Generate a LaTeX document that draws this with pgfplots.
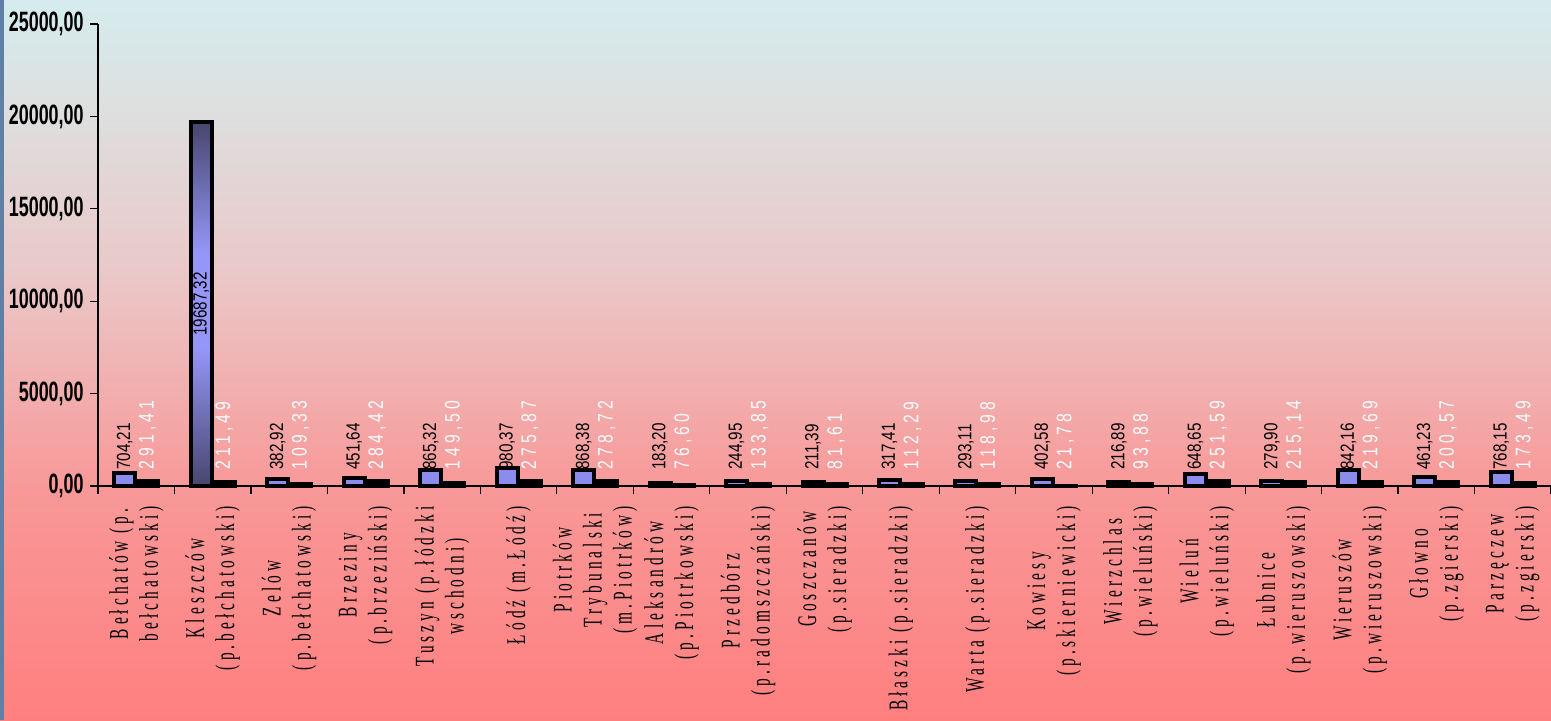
\documentclass[border=0pt]{standalone}
\usepackage{fontspec}
\usepackage{pgfplots}
\usepackage{pgfplotstable}
\pgfplotsset{compat=1.18}
\setmainfont{Liberation Serif}
\newfontfamily\xlabfont[FakeStretch=0.57,LetterSpace=15]{Liberation Serif}
\newfontfamily\ynumfont[FakeStretch=0.64]{Liberation Sans}
\newfontfamily\lblonefont[FakeStretch=0.8]{Liberation Sans}
\newfontfamily\lbltwofont[FakeStretch=0.75,LetterSpace=20]{Liberation Sans}

\definecolor{bg0}{HTML}{FF7F7F}
\definecolor{bg1}{HTML}{F89898}
\definecolor{bg2}{HTML}{F3ABAB}
\definecolor{bg3}{HTML}{EAC8C8}
\definecolor{bg4}{HTML}{DEDEDE}
\definecolor{bg5}{HTML}{D5ECEE}
\definecolor{stripcol}{HTML}{5F7FA5}
\definecolor{bardark}{HTML}{46466E}
\definecolor{barlight}{HTML}{9696F8}
\definecolor{barsmall}{HTML}{8C8CEC}

\pgfdeclareverticalshading{bgshade}{100bp}{color(0bp)=(bg0); color(25bp)=(bg0); color(41bp)=(bg1); color(47bp)=(bg2); color(56bp)=(bg3); color(67bp)=(bg4); color(75bp)=(bg5); color(100bp)=(bg5)}
\pgfdeclareverticalshading{barshade}{100bp}{color(0bp)=(bardark); color(25bp)=(bardark); color(44bp)=(barlight); color(57bp)=(barlight); color(75bp)=(bardark); color(100bp)=(bardark)}

\pgfplotstableread{
i v1 v2 l1 l2
0 704.21 291.41 704,21 291,41
1 19687.32 211.49 19687,32 211,49
2 382.92 109.33 382,92 109,33
3 451.64 284.42 451,64 284,42
4 865.32 149.50 865,32 149,50
5 980.37 275.87 980,37 275,87
6 868.38 278.72 868,38 278,72
7 183.20 76.60 183,20 76,60
8 244.95 133.85 244,95 133,85
9 211.39 81.61 211,39 81,61
10 317.41 112.29 317,41 112,29
11 293.11 118.98 293,11 118,98
12 402.58 21.78 402,58 21,78
13 216.89 93.88 216,89 93,88
14 648.65 251.59 648,65 251,59
15 279.90 215.14 279,90 215,14
16 842.16 219.69 842,16 219,69
17 461.23 200.57 461,23 200,57
18 768.15 173.49 768,15 173,49
}\datatable

\begin{document}
\begin{tikzpicture}[x=1bp,y=1bp]
\useasboundingbox (0,0) rectangle (775.5,360);
\clip (0,0) rectangle (775.5,360);
\shade[shading=bgshade] (0,0) rectangle (775.5,360);
\fill[stripcol] (0,0) rectangle (2,360);
\begin{axis}[
  at={(49bp,117bp)}, anchor=south west,
  scale only axis, width=726.5bp, height=231bp,
  xmin=-0.5, xmax=18.5, ymin=0, ymax=25000,
  axis x line*=bottom, axis y line*=left,
  axis line style={black, line width=0.6bp},
  tick align=outside, major tick length=4bp,
  tick style={black, line width=0.6bp},
  xtick={-0.5,0.5,...,18.5},
  x tick label as interval,
  xticklabels={
    {Bełchatów (p.\\bełchatowski)},
    {Kleszczów\\(p.bełchatowski)},
    {Zelów\\(p.bełchatowski)},
    {Brzeziny\\(p.brzeziński)},
    {Tuszyn (p.łódzki\\wschodni)},
    {Łódź (m.Łódź)},
    {Piotrków\\Trybunalski\\(m.Piotrków)},
    {Aleksandrów\\(p.Piotrkowski)},
    {Przedbórz\\(p.radomszczański)},
    {Goszczanów\\(p.sieradzki)},
    {Błaszki (p.sieradzki)},
    {Warta (p.sieradzki)},
    {Kowiesy\\(p.skierniewicki)},
    {Wierzchlas\\(p.wieluński)},
    {Wieluń\\(p.wieluński)},
    {Łubnice\\(p.wieruszowski)},
    {Wieruszów\\(p.wieruszowski)},
    {Głowno\\(p.zgierski)},
    {Parzęczew\\(p.zgierski)}},
  xticklabel style={yshift=-5bp, rotate=90, anchor=east, align=center, inner sep=1bp,
    font=\xlabfont\fontsize{13.5bp}{15bp}\selectfont},
  ytick={0,5000,...,25000},
  scaled y ticks=false,
  yticklabel={\pgfmathprintnumber[fixed,fixed zerofill,precision=2,use comma,1000 sep={},assume math mode=true]{\tick}},
  yticklabel style={font=\ynumfont\bfseries\fontsize{14bp}{15bp}\selectfont, inner sep=1bp, xshift=-2bp},
  clip=false,
]
% labels of series 1 (behind bars)
\addplot[draw=none, mark=none, forget plot, nodes near coords, point meta=explicit symbolic,
  skip coords between index={1}{2},
  every node near coord/.append style={yshift=8bp, rotate=90, anchor=west, inner sep=0pt,
    font=\lblonefont\fontsize{9.5bp}{10bp}\selectfont, text=black}]
  table[x expr=\thisrow{i}-0.1504, y expr=0, meta=l1]{\datatable};
% labels of series 2
\addplot[draw=none, mark=none, forget plot, nodes near coords, point meta=explicit symbolic,
  every node near coord/.append style={yshift=8bp, rotate=90, anchor=west, inner sep=0pt,
    font=\lbltwofont\fontsize{10.5bp}{11bp}\selectfont, text=white}]
  table[x expr=\thisrow{i}+0.1504, y expr=0, meta=l2]{\datatable};
% bars, series 1: small bars with plain fill, tall bar with gradient
\addplot[ybar, bar width=10.5bp, bar shift=-5.75bp, draw=black, line width=2bp, fill=barsmall,
  skip coords between index={1}{2}]
  table[x=i, y=v1]{\datatable};
\addplot[ybar, bar width=10.5bp, bar shift=-5.75bp, draw=black, line width=2bp, shade, shading=barshade,
  skip coords between index={0}{1}, skip coords between index={2}{19}]
  table[x=i, y=v1]{\datatable};
% bars, series 2
\addplot[ybar, bar width=10.5bp, bar shift=5.75bp, draw=black, fill=black, line width=2bp]
  table[x=i, y=v2]{\datatable};
% label inside the tall bar
\addplot[draw=none, mark=none, forget plot, nodes near coords={19687,32},
  every node near coord/.append style={rotate=90, anchor=center, inner sep=0pt,
    font=\lblonefont\fontsize{9.5bp}{10bp}\selectfont, text=black}]
  coordinates {(0.8496,9843.66)};
\end{axis}
\end{tikzpicture}
\end{document}
